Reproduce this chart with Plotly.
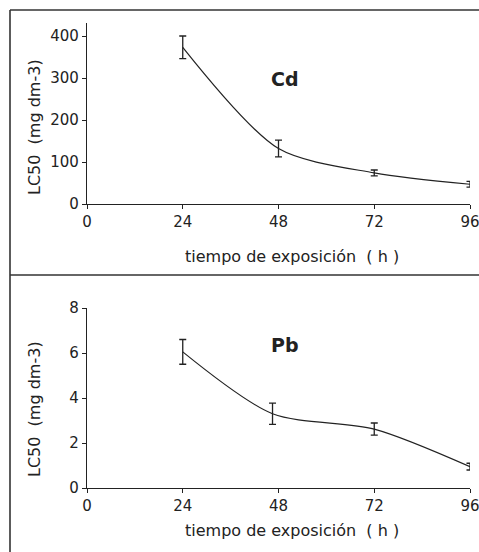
import plotly.graph_objects as go

# Data
hours = [24, 48, 72, 96]
cd_lc50 = [373, 132, 74, 47]
cd_err = [27, 20, 7, 7]
pb_hours = [24, 46.5, 72, 96]
pb_lc50 = [6.05, 3.3, 2.62, 0.95]
pb_err = [0.55, 0.47, 0.27, 0.15]
x_ticks = [0, 24, 48, 72, 96]
cd_yticks = [0, 100, 200, 300, 400]
pb_yticks = [0, 2, 4, 6, 8]

W, H = 479, 552
def px(x):
    return x / W
def py(y):
    return 1 - y / H

ink = "#222222"
font = "DejaVu Sans, Arial, sans-serif"

fig = go.Figure()
fig.add_trace(go.Scatter(
    x=hours, y=cd_lc50, mode="lines", line=dict(color=ink, width=1.2, shape="spline", smoothing=0.8),
    error_y=dict(type="data", array=cd_err, visible=True, color=ink, thickness=1.3, width=3.5),
    xaxis="x", yaxis="y", showlegend=False, hoverinfo="skip", cliponaxis=False))
fig.add_trace(go.Scatter(
    x=pb_hours, y=pb_lc50, mode="lines", line=dict(color=ink, width=1.2, shape="spline", smoothing=0.8),
    error_y=dict(type="data", array=pb_err, visible=True, color=ink, thickness=1.3, width=3.5),
    xaxis="x2", yaxis="y2", showlegend=False, hoverinfo="skip", cliponaxis=False))

xd = [px(87), px(470)]
axis_common = dict(showgrid=False, zeroline=False, showline=True, linecolor=ink, linewidth=1.3,
                   ticks="outside", ticklen=4, tickcolor=ink, tickwidth=1.2, automargin=False,
                   ticklabeloverflow="allow",
                   tickfont=dict(family=font, size=15, color=ink))

fig.update_layout(
    width=W, height=H, margin=dict(l=0, r=0, t=0, b=0),
    paper_bgcolor="white", plot_bgcolor="white",
    xaxis=dict(domain=xd, range=[0, 96], tickvals=x_ticks, anchor="y", **axis_common),
    yaxis=dict(domain=[py(204), py(23)], range=[0, 431], tickvals=cd_yticks, anchor="x", **axis_common),
    xaxis2=dict(domain=xd, range=[0, 96], tickvals=x_ticks, anchor="y2", **axis_common),
    yaxis2=dict(domain=[py(488), py(308)], range=[0, 8], tickvals=pb_yticks, anchor="x2", **axis_common),
)

annots = []
for yc in (256, 530):
    annots.append(dict(text="tiempo de exposición  ( h )", x=px(292), y=py(yc), xref="paper", yref="paper",
                       showarrow=False, font=dict(family=font, size=16, color=ink), xanchor="center", yanchor="middle"))
for yc in (127, 409):
    annots.append(dict(text="LC50  (mg dm-3)", x=px(34), y=py(yc), xref="paper", yref="paper",
                       showarrow=False, textangle=-90, font=dict(family=font, size=16, color=ink),
                       xanchor="center", yanchor="middle"))
annots.append(dict(text="<b>Cd</b>", x=px(285), y=py(66), xref="paper", yref="paper", showarrow=False,
                   font=dict(family=font, size=19, color=ink)))
annots.append(dict(text="<b>Pb</b>", x=px(285), y=py(345), xref="paper", yref="paper", showarrow=False,
                   font=dict(family=font, size=19, color=ink)))
fig.update_layout(annotations=annots)

border = dict(color="#333333", width=1.6)
fig.update_layout(shapes=[
    dict(type="line", xref="paper", yref="paper", x0=px(10), x1=1, y0=py(10), y1=py(10), line=border),
    dict(type="line", xref="paper", yref="paper", x0=px(10), x1=1, y0=py(275), y1=py(275), line=border),
    dict(type="line", xref="paper", yref="paper", x0=px(10), x1=px(10), y0=py(10), y1=0, line=border),
])

fig.write_html("out.html")
